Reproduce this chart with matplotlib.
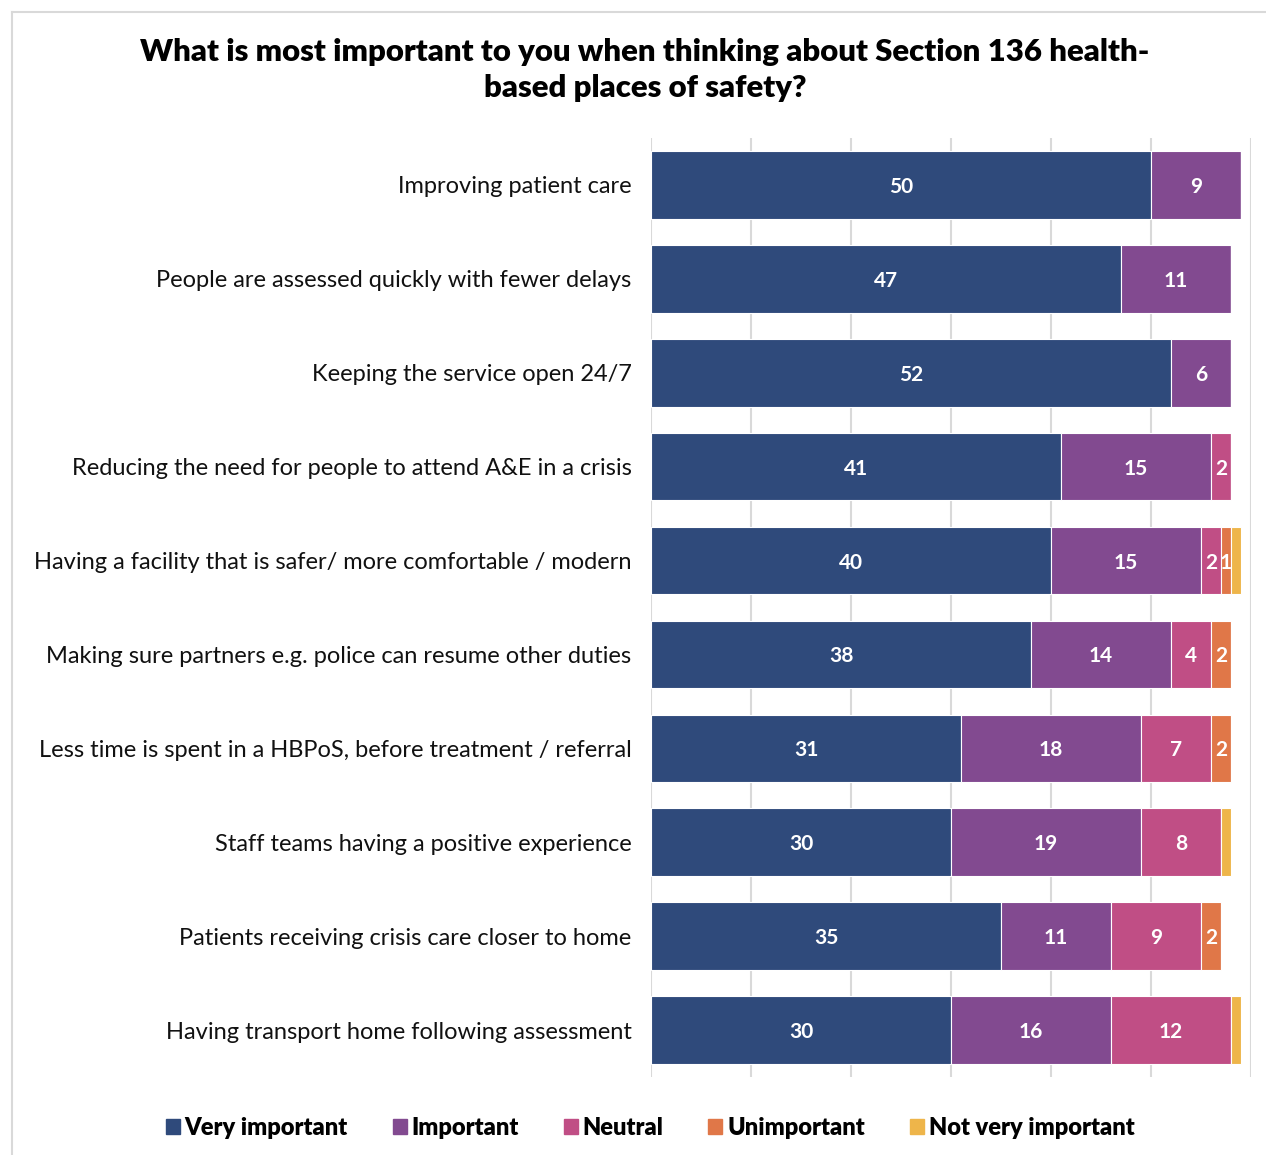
import matplotlib
matplotlib.use("Agg")
import matplotlib.pyplot as plt
from matplotlib.patches import Rectangle
from matplotlib.lines import Line2D

categories = [
    "Improving patient care",
    "People are assessed quickly with fewer delays",
    "Keeping the service open 24/7",
    "Reducing the need for people to attend A&E in a crisis",
    "Having a facility that is safer/ more comfortable / modern",
    "Making sure partners e.g. police can resume other duties",
    "Less time is spent in a HBPoS, before treatment / referral",
    "Staff teams having a positive experience",
    "Patients receiving crisis care closer to home",
    "Having transport home following assessment",
]
series_names = ["Very important", "Important", "Neutral", "Unimportant", "Not very important"]
very_important = [50, 47, 52, 41, 40, 38, 31, 30, 35, 30]
important = [9, 11, 6, 15, 15, 14, 18, 19, 11, 16]
neutral = [0, 0, 0, 2, 2, 4, 7, 8, 9, 12]
unimportant = [0, 0, 0, 0, 1, 2, 2, 0, 2, 0]
not_very_important = [0, 0, 0, 0, 1, 0, 0, 1, 0, 1]
colors = ["#2F4A7B", "#824A90", "#C04E85", "#E07748", "#EEB54A"]
labelled = [True, True, True, True, False]

plt.rcParams['font.family'] = ['Lato', 'DejaVu Sans']

W, H = 1266, 1155
fig = plt.figure(figsize=(W / 100, H / 100), dpi=100)
ax = fig.add_axes([651 / W, 1 - 1077 / H, 600 / W, (1077 - 138) / H])

data = [very_important, important, neutral, unimportant, not_very_important]
y = list(range(len(categories)))
left = [0] * len(categories)
for vals, col, name, lab in zip(data, colors, series_names, labelled):
    bars = ax.barh(y, vals, left=left, height=0.72, color=col, edgecolor="white",
                   linewidth=0.8, label=name, zorder=3)
    if lab:
        for b, v in zip(bars, vals):
            if v > 0:
                ax.text(b.get_x() + b.get_width() / 2, b.get_y() + b.get_height() / 2, str(v),
                        ha="center", va="center_baseline", color="white", fontsize=15,
                        fontweight="bold", zorder=4)
    left = [l + v for l, v in zip(left, vals)]

ax.set_xlim(0, 60)
ax.set_ylim(len(categories) - 0.5, -0.5)
ax.set_xticks(range(0, 61, 10))
ax.xaxis.grid(True, color="#D9D9D9", linewidth=1.5, zorder=0)
ax.tick_params(axis="x", length=0, labelbottom=False)
ax.tick_params(axis="y", length=0, pad=14)
ax.set_yticks(y)
ax.set_yticklabels(categories, fontsize=17, color="#111111")
for s in ax.spines.values():
    s.set_visible(False)

fig.text(645 / W, 1 - 52 / H, "What is most important to you when thinking about Section 136 health-",
         ha="center", va="center", fontsize=22.4, fontweight="heavy")
fig.text(645 / W, 1 - 88 / H, "based places of safety?",
         ha="center", va="center", fontsize=22.4, fontweight="heavy")

# border
fig.add_artist(Line2D([12 / W, 12 / W], [0, 1 - 12 / H], color="#D9D9D9", linewidth=1.5))
fig.add_artist(Line2D([12 / W, 1], [1 - 12 / H, 1 - 12 / H], color="#D9D9D9", linewidth=1.5))

handles = [Rectangle((0, 0), 1, 1, color=c) for c in colors]
leg = fig.legend(handles, series_names, loc="center", bbox_to_anchor=(650 / W, 1 - 1128 / H),
                 ncol=5, frameon=False, handlelength=0.6, handleheight=0.6, handletextpad=0.2,
                 columnspacing=1.9, prop={"weight": "heavy", "size": 17})

fig.savefig("out.png", dpi=100)
